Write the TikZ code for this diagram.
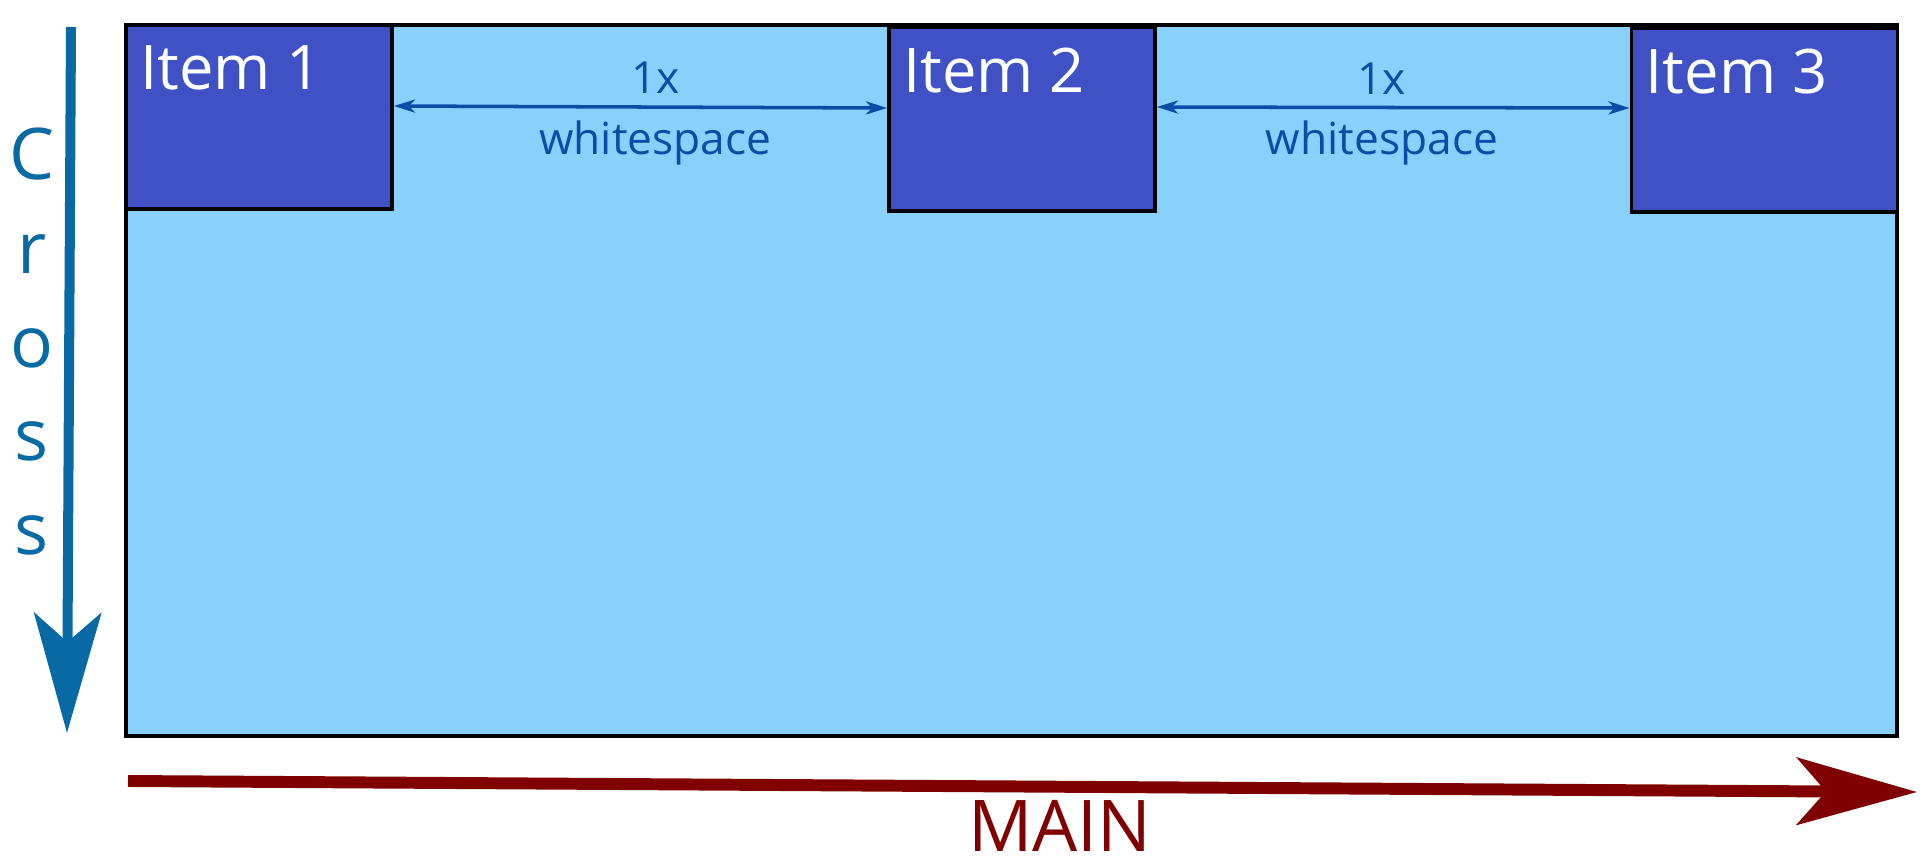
\documentclass[tikz,border=0pt]{standalone}
\usepackage{fontspec}
\setmainfont{Open Sans}
\usetikzlibrary{arrows.meta}
\definecolor{areablue}{HTML}{88D1FC}
\definecolor{itemblue}{HTML}{3F51C4}
\definecolor{gapblue}{HTML}{0B4DA6}
\definecolor{crossblue}{HTML}{086AA5}
\definecolor{mainred}{HTML}{800000}
\tikzset{
  container/.style={draw=black,line width=1pt,fill=areablue,
    minimum width=17.71cm,minimum height=7.11cm,inner sep=0pt},
  item/.style={draw=black,line width=1.1pt,fill=itemblue,
    minimum width=2.66cm,minimum height=1.84cm,inner sep=0pt},
  item text/.style={anchor=north west,inner sep=0pt,xshift=1.55mm,yshift=-2.2mm,
    text=white,font=\fontsize{17.5}{21}\selectfont},
  gaparrow/.style={<->,>={Stealth[length=2.1mm,width=1.3mm,inset=0.6mm]},
    draw=gapblue,line width=1pt},
  gap text/.style={text=gapblue,font=\fontsize{12.6}{15}\selectfont},
  dirarrow/.style={-{Stealth[length=12mm,width=6.7mm,inset=2.9mm]}}
}
\begin{document}
\begin{tikzpicture}
    \useasboundingbox (0,0) rectangle (19.2,8.62);
    \node [container] (area) at (10.115,4.815) {};
    \node [item] (item1) [label={[item text]north west:Item 1}] at (2.59,7.45) {};
    \node [item] (item2) [label={[item text]north west:Item 2}] at (10.22,7.43) {};
    \node [item] (item3) [label={[item text]north west:Item 3}] at (17.645,7.42) {};
    \draw [gaparrow] ([yshift=1.1mm]item1.east) --
      node[gap text,above,pos=0.53] {1x}
      node[gap text,below,pos=0.53] {whitespace} ([yshift=1.1mm]item2.west);
    \draw [gaparrow] ([yshift=1.2mm]item2.east) --
      node[gap text,above,pos=0.476] {1x}
      node[gap text,below,pos=0.476] {whitespace} ([yshift=1.2mm]item3.west);
    \coordinate (cross top) at (0.71,8.35);
    \coordinate (cross tip) at (0.67,1.29);
    \draw [dirarrow,crossblue,line width=2.85pt] (cross top) -- (cross tip);
    \node [crossblue,font=\fontsize{20.3}{26.7}\selectfont,align=center,
      anchor=north,inner sep=0pt] (cross) at (0.32,7.35) {C\\r\\o\\s\\s};
    \coordinate (main start) at (1.28,0.81);
    \coordinate (main tip) at (19.17,0.70);
    \draw [dirarrow,mainred,line width=3.4pt] (main start) -- (main tip);
    \node [mainred,font=\fontsize{20.3}{24}\selectfont,anchor=base,
      inner sep=0pt] (main) at (10.60,0.11) {MAIN};
  \end{tikzpicture}
\end{document}
